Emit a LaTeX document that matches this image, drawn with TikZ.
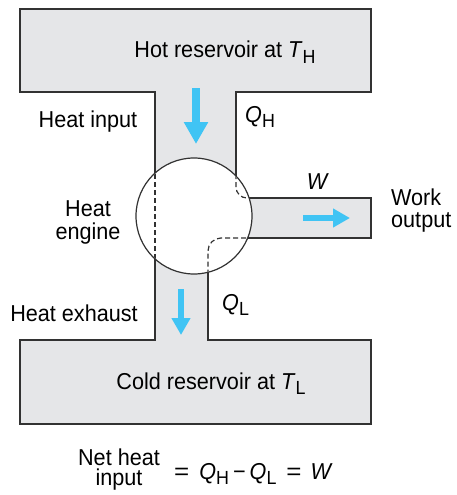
\documentclass[tikz,border=0pt]{standalone}
\usepackage{fontspec}
\setmainfont{Liberation Sans}[FakeStretch=0.94]
\usetikzlibrary{arrows.meta}
\definecolor{resgray}{RGB}{229,230,232}
\definecolor{flowblue}{RGB}{64,196,244}
\definecolor{wallgray}{RGB}{50,50,50}
\newcommand{\lowsub}[1]{\raisebox{-0.22em}{\fontsize{19}{19}\selectfont #1}}
\newcommand{\wideeq}{\scalebox{1.2}[1]{=}}

\begin{document}
\begin{tikzpicture}[x=1pt,y=-1pt,
  wall/.style={line width=1.2pt,draw=wallgray},
  bigflow/.style={flowblue,line width=8pt,-{Triangle[width=23pt,length=22pt]}},
  smallflow/.style={flowblue,line width=6.5pt,-{Triangle[width=18pt,length=17pt]}},
  lbl/.style={anchor=base,font=\fontsize{23}{23}\selectfont,inner sep=0pt}]
  \useasboundingbox (0,0) rectangle (456,495);
  % Gray reservoirs and channels
  \fill[resgray] (20,9) rectangle (371,92);
  \fill[resgray] (155,90) rectangle (236,216);
  \fill[resgray] (194,198) rectangle (371,238);
  \fill[resgray] (155,216) rectangle (208,342);
  \fill[resgray] (20,340) rectangle (371,424);
  % Outlines
  \draw[wall] (155,216) -- (155,92) -- (20,92) -- (20,9) -- (371,9) -- (371,92) -- (236,92) -- (236,216);
  \draw[wall] (194,198) -- (371,198) -- (371,238) -- (194,238);
  \draw[wall] (155,216) -- (155,340) -- (20,340) -- (20,424) -- (371,424) -- (371,340) -- (208,340) -- (208,216);
  % Engine
  \draw[wall,fill=white] (194,216) circle (58);
  \begin{scope}
    \clip (194,216) circle (57.4);
    \draw[wall,dash pattern=on 5pt off 3pt] (155,150) -- (155,280);
    \draw[wall,dash pattern=on 5pt off 3pt,rounded corners=11pt] (236,150) -- (236,198) -- (262,198);
    \draw[wall,dash pattern=on 5pt off 3pt,rounded corners=13pt] (262,238) -- (208,238) -- (208,290);
  \end{scope}
  % Flow arrows
  \coordinate (qh0) at (196,88);
  \coordinate (qh1) at (196,144);
  \coordinate (ql0) at (181,289);
  \coordinate (ql1) at (181,335);
  \coordinate (w0) at (303,218);
  \coordinate (w1) at (350,218);
  \draw[bigflow] (qh0) -- (qh1);
  \draw[smallflow] (ql0) -- (ql1);
  \draw[smallflow] (w0) -- (w1);
  % Labels
  \node[lbl] (hot) at (225,58) {Hot reservoir at \textit{T}\lowsub{H}};
  \node[lbl] (hin) at (88,127) {Heat input};
  \node[lbl,anchor=base west] (qh) at (245,122) {\textit{Q}\lowsub{H}};
  \node[lbl,align=center] (eng) at (88,239) {Heat\\engine};
  \node[lbl] (w) at (318,189) {\textit{W}};
  \node[lbl,anchor=base west,align=left] (wout) at (391,227) {Work\\[-1pt]output};
  \node[lbl] (hex) at (74,321) {Heat exhaust};
  \node[lbl,anchor=base west] (ql) at (222,310) {\textit{Q}\lowsub{L}};
  \node[lbl] (cold) at (211,389) {Cold reservoir at \textit{T}\lowsub{L}};
  \node[lbl,align=center] (net) at (119,485) {Net heat\\[-3pt]input};
  \node[lbl,anchor=base west] (eq) at (174,479) {\wideeq\hspace{10pt}\textit{Q}\lowsub{H}\hspace{4pt}−\hspace{4pt}\textit{Q}\lowsub{L}\hspace{10pt}\wideeq\hspace{9pt}\textit{W}};
\end{tikzpicture}
\end{document}
